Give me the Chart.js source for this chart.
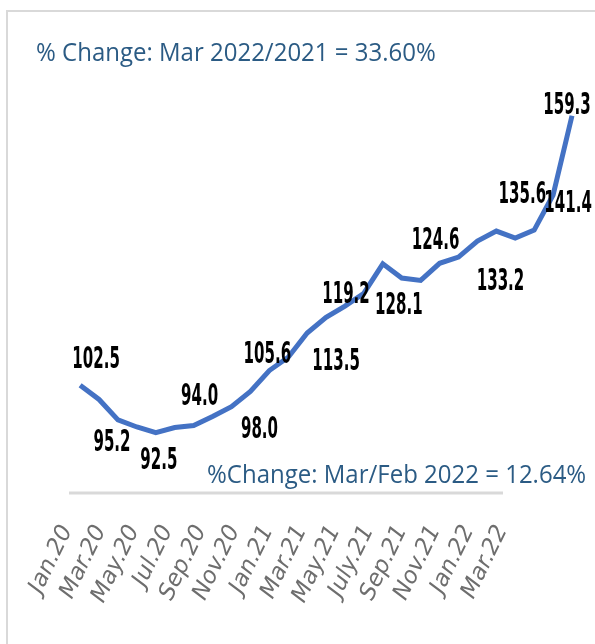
<!DOCTYPE html>
<html>
<head>
<meta charset="utf-8">
<script src="https://cdn.jsdelivr.net/npm/chart.js@4.4.1/dist/chart.umd.min.js"></script>
<style>
body { margin: 0; background: #fff; }
canvas { display: block; }
</style>
</head>
<body>
<canvas id="mygraph" width="595" height="644"></canvas>
<script>
// Index mensuel Jan.20 -> Mar.22

var months = ["Jan.20","Feb.20","Mar.20","Apr.20","May.20","Jun.20","Jul.20","Aug.20","Sep.20","Oct.20","Nov.20","Dec.20",
              "Jan.21","Feb.21","Mar.21","Apr.21","May.21","Jun.21","July.21","Aug.21","Sep.21","Oct.21","Nov.21","Dec.21",
              "Jan.22","Feb.22","Mar.22"];
var values = [102.5, 99.5, 95.2, 93.7, 92.5, 93.6, 94.0, 95.9, 98.0, 101.2, 105.6, 108.4,
              113.5, 116.8, 119.2, 121.9, 128.1, 125.1, 124.6, 128.2, 129.5, 132.9, 135.0, 133.5,
              135.2, 142.6, 159.3];

// labels de l'axe (un mois sur deux)
var tickLabels = ["Jan.20","Mar.20","May.20","Jul.20","Sep.20","Nov.20","Jan.21","Mar.21","May.21","July.21","Sep.21","Nov.21","Jan.22","Mar.22"];

// valeurs affichées sur la courbe
var valueLabelIdx = [0, 2, 4, 6, 8, 10, 12, 14, 16, 18, 20, 22, 24, 26];
var valueLabelText = ["102.5","95.2","92.5","94.0","98.0","105.6","113.5","119.2","128.1","124.6","133.2","135.6","141.4","159.3"];

var titleText = "% Change: Mar 2022/2021 = 33.60%";
var noteText = "%Change: Mar/Feb 2022 = 12.64%";

// décalage (px) de chaque valeur par rapport à son point
var labelOffsets = [[16,-25],[-6,23],[3,29],[6,-28],[28,24],[-2,-15],[29,29],[1,-11],[16,43],[15,-39],[42,25],[26,-36],[34,-26],[-5,-9]];

var lineColor = "#4472c4";
var textBlue = "#2b5b84";
var greyLine = "#d9d9d9";

// Dessine cadre, textes et valeurs
var decorPlugin = {
    id: "decor",
    beforeDraw: function(chart) {
        var c = chart.ctx;
        c.save();
        c.fillStyle = "#fff";
        c.fillRect(0, 0, chart.width, chart.height);
        c.strokeStyle = greyLine;
        c.lineWidth = 2;
        c.beginPath();
        c.moveTo(7, 644);
        c.lineTo(7, 11);
        c.lineTo(595, 11);
        c.stroke();
        // ligne sous la courbe
        c.lineWidth = 3;
        c.beginPath();
        c.moveTo(69, 493);
        c.lineTo(503, 493);
        c.stroke();
        c.restore();
    },
    afterDraw: function(chart) {
        var c = chart.ctx;
        var xs = chart.scales.x;
        var ys = chart.scales.y;
        c.save();
        c.fillStyle = textBlue;
        c.font = "24px 'Open Sans'";
        c.textAlign = "left";
        c.textBaseline = "alphabetic";
        drawStretched(c, titleText, 36, 61, 1, 1.05);
        drawStretched(c, noteText, 207, 483, 1, 1.05);

        c.fillStyle = "#000";
        c.font = "bold 22px 'DejaVu Sans Condensed', sans-serif";
        c.textAlign = "center";
        c.textBaseline = "middle";
        for (var k = 0; k < valueLabelIdx.length; k++) {
            var i = valueLabelIdx[k];
            var px = xs.getPixelForValue(i) + labelOffsets[k][0];
            var py = ys.getPixelForValue(values[i]) + labelOffsets[k][1];
            drawStretched(c, valueLabelText[k], px, py, 0.76, 1.34);
        }
        c.restore();
    }
};

function drawStretched(c, txt, x, y, sx, sy) {
    c.save();
    c.translate(x, y);
    c.scale(sx, sy);
    c.fillText(txt, 0, 0);
    c.restore();
}

var ctx = document.getElementById("mygraph");

var chartdata = {
    datasets: [
        {
            data: values.map(function(v, i) { return { x: i, y: v }; }),
            borderColor: lineColor,
            borderWidth: 5,
            pointRadius: 0,
            tension: 0,
            fill: false,
            clip: false,
            xAxisID: "x",
            yAxisID: "y"
        }
    ]
};

var options = {
    responsive: false,
    animation: false,
    layout: { padding: { left: 72, right: 23, top: 65, bottom: 0 } },
    plugins: {
        legend: { display: false },
        tooltip: { enabled: false }
    },
    scales: {
        x: {
            type: "linear",
            display: false,
            min: -0.43,
            max: 26
        },
        x2: {
            type: "linear",
            position: "bottom",
            min: 0.15,
            max: 15.09,
            grid: { display: false, drawTicks: false },
            border: { display: false },
            afterBuildTicks: function(scale) {
                scale.ticks = tickLabels.map(function(t, i) { return { value: i }; });
            },
            afterFit: function(scale) {
                scale.height = 152;
            },
            ticks: {
                autoSkip: false,
                minRotation: 64,
                maxRotation: 64,
                padding: 29,
                color: "#6e6e6e",
                font: { family: "'DejaVu Sans'", size: 23, style: "italic" },
                callback: function(v) { return tickLabels[v]; }
            }
        },
        y: {
            type: "linear",
            display: false,
            min: 80,
            max: 170
        }
    }
};

var myGraph = new Chart(ctx, {
    type: "line",
    data: chartdata,
    options: options,
    plugins: [decorPlugin]
});
</script>
</body>
</html>
